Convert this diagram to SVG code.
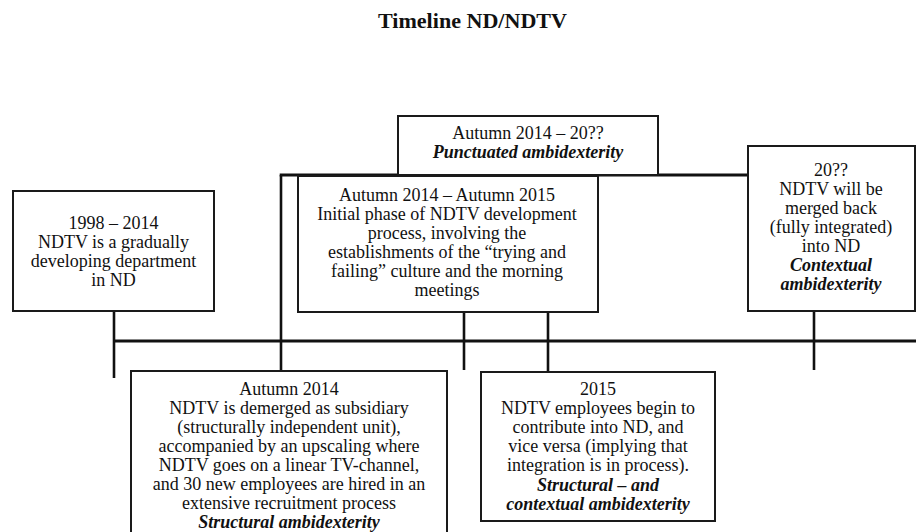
<svg xmlns="http://www.w3.org/2000/svg" width="916" height="532" viewBox="0 0 916 532">
  <style>
    .box { fill: #ffffff; stroke: #1a1a1a; stroke-width: 2; }
    .conn { stroke: #111111; stroke-width: 2.6; fill: none; stroke-linecap: butt; }
    .axis { stroke: #111111; stroke-width: 3; fill: none; }
    text { font-family: "Liberation Serif", "Times New Roman", serif; font-size: 18px; fill: #111111; text-anchor: middle; }
    .em { font-weight: bold; font-style: italic; }
    .title { font-weight: bold; font-size: 22px; }
  </style>
  <rect width="916" height="532" fill="#ffffff"/>

  <text class="title" x="472.5" y="28" textLength="189" lengthAdjust="spacingAndGlyphs">Timeline ND/NDTV</text>

  <!-- timeline axis and the links between the phases -->
  <g id="connectors">
    <line class="axis" x1="114" y1="341" x2="916" y2="341"/>
    <line class="conn" x1="114" y1="311" x2="114" y2="378"/>
    <line class="conn" x1="281" y1="175" x2="281" y2="371"/>
    <line class="axis" x1="279.7" y1="175" x2="748" y2="175"/>
    <line class="conn" x1="464" y1="312" x2="464" y2="370"/>
    <line class="conn" x1="548" y1="312" x2="548" y2="372"/>
    <line class="conn" x1="814" y1="311" x2="814" y2="370"/>
  </g>

  <g id="phase-1998-2014">
    <rect class="box" x="13" y="191" width="201" height="120"/>
    <text x="113.5" y="228.5">1998 – 2014</text>
    <text x="113.5" y="247.5">NDTV is a gradually</text>
    <text x="113.5" y="266.5">developing department</text>
    <text x="113.5" y="285.5">in ND</text>
  </g>

  <g id="phase-punctuated">
    <rect class="box" x="398" y="116" width="260" height="59"/>
    <text x="528" y="139">Autumn 2014 – 20??</text>
    <text class="em" x="528" y="158">Punctuated ambidexterity</text>
  </g>

  <g id="phase-initial">
    <rect class="box" x="298" y="176" width="300" height="136"/>
    <text x="447" y="201">Autumn 2014 – Autumn 2015</text>
    <text x="447" y="220">Initial phase of NDTV development</text>
    <text x="447" y="239">process, involving the</text>
    <text x="447" y="258">establishments of the “trying and</text>
    <text x="447" y="277">failing” culture and the morning</text>
    <text x="447" y="296">meetings</text>
  </g>

  <g id="phase-merge">
    <rect class="box" x="748" y="146" width="167" height="165"/>
    <text x="831" y="176">20??</text>
    <text x="831" y="195">NDTV will be</text>
    <text x="831" y="214">merged back</text>
    <text x="831" y="233">(fully integrated)</text>
    <text x="831" y="252">into ND</text>
    <text class="em" x="831" y="271">Contextual</text>
    <text class="em" x="831" y="290">ambidexterity</text>
  </g>

  <g id="phase-demerger">
    <rect class="box" x="131" y="371" width="316" height="170"/>
    <text x="289" y="394.5">Autumn 2014</text>
    <text x="289" y="413.6">NDTV is demerged as subsidiary</text>
    <text x="289" y="432.7">(structurally independent unit),</text>
    <text x="289" y="451.8">accompanied by an upscaling where</text>
    <text x="289" y="470.9">NDTV goes on a linear TV-channel,</text>
    <text x="289" y="490">and 30 new employees are hired in an</text>
    <text x="289" y="509.1">extensive recruitment process</text>
    <text class="em" x="289" y="528.2">Structural ambidexterity</text>
  </g>

  <g id="phase-2015">
    <rect class="box" x="481" y="372" width="234" height="149"/>
    <text x="598" y="395">2015</text>
    <text x="598" y="414.1">NDTV employees begin to</text>
    <text x="598" y="433.2">contribute into ND, and</text>
    <text x="598" y="452.3">vice versa (implying that</text>
    <text x="598" y="471.4">integration is in process).</text>
    <text class="em" x="598" y="490.5">Structural – and</text>
    <text class="em" x="598" y="509.6">contextual ambidexterity</text>
  </g>
</svg>
